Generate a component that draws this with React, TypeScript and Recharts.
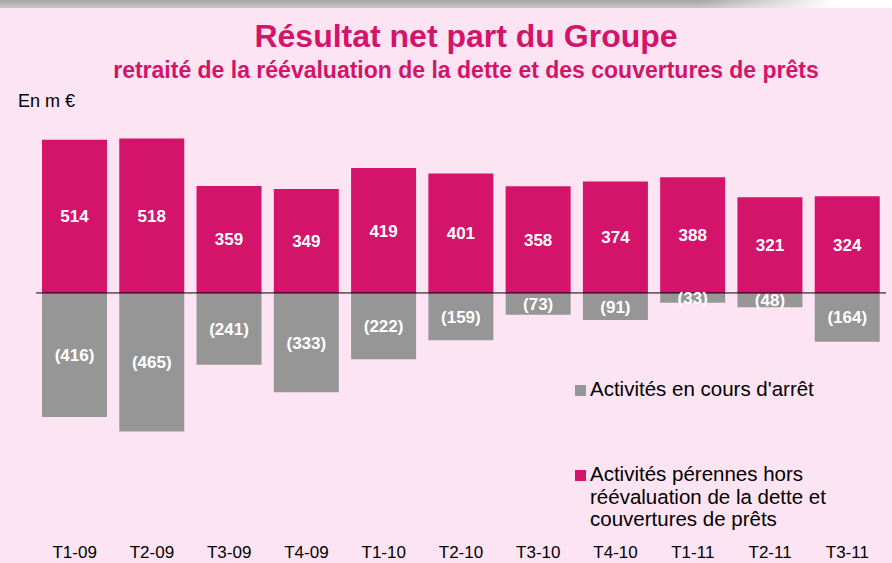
import { BarChart, Bar, XAxis, YAxis, LabelList, ReferenceLine } from 'recharts';

const quarters = ['T1-09', 'T2-09', 'T3-09', 'T4-09', 'T1-10', 'T2-10', 'T3-10', 'T4-10', 'T1-11', 'T2-11', 'T3-11'];
const perennes = [514, 518, 359, 349, 419, 401, 358, 374, 388, 321, 324];
const arret = [-416, -465, -241, -333, -222, -159, -73, -91, -33, -48, -164];

const data = quarters.map((q, i) => ({ name: q, perennes: perennes[i], arret: arret[i] }));

const PINK = '#d4136a';
const GREY = '#969696';
const FONT = '"Liberation Sans", Arial, sans-serif';

const QuarterTick = ({ x, y, payload }: any) => (
  <text x={x} y={y} dy={108} textAnchor="middle" fill="#000" fontSize={17} fontFamily={FONT}>
    {payload.value}
  </text>
);

export default function App() {
  return (
    <div style={{ position: 'absolute', left: 0, top: 0, width: 892, height: 563, background: '#fde4f2', fontFamily: FONT, overflow: 'hidden' }}>
      <div style={{ position: 'absolute', left: 0, top: 0, width: 892, height: 8, background: 'linear-gradient(to bottom, #a4a4a4, #c6c6c6)' }} />
      <div style={{ position: 'absolute', left: 700, top: 0, width: 192, height: 8, background: 'linear-gradient(to right, rgba(255,255,255,0), #fff 70%)' }} />

      <div style={{ position: 'absolute', left: 0, top: 18, width: 932, textAlign: 'center', color: PINK, fontWeight: 'bold', fontSize: 32 }}>
        Résultat net part du Groupe
      </div>
      <div style={{ position: 'absolute', left: 0, top: 57, width: 932, textAlign: 'center', color: PINK, fontWeight: 'bold', fontSize: 23 }}>
        retraité de la réévaluation de la dette et des couvertures de prêts
      </div>
      <div style={{ position: 'absolute', left: 18, top: 91, color: '#000', fontSize: 18 }}>En m €</div>

      <div style={{ position: 'absolute', left: 0, top: 0 }}>
        <BarChart
          width={892}
          height={563}
          data={data}
          stackOffset="sign"
          barCategoryGap={6}
          margin={{ top: 129, right: 6, bottom: 0, left: 36 }}
        >
          <XAxis dataKey="name" height={121} axisLine={false} tickLine={false} tick={<QuarterTick />} interval={0} />
          <YAxis hide domain={[-500, 550]} />
          <Bar dataKey="perennes" stackId="a" fill={PINK} isAnimationActive={false}>
            <LabelList
              dataKey="perennes"
              position="center"
              fill="#fff"
              fontSize={17}
              fontWeight="bold"
              fontFamily={FONT}
            />
          </Bar>
          <Bar dataKey="arret" stackId="a" fill={GREY} isAnimationActive={false}>
            <LabelList
              dataKey="arret"
              position="center"
              fill="#fff"
              fontSize={17}
              fontWeight="bold"
              fontFamily={FONT}
              formatter={(v: any) => `(${Math.abs(Number(v))})`}
            />
          </Bar>
          <ReferenceLine y={0} stroke="#000" strokeWidth={1} ifOverflow="extendDomain" />
        </BarChart>
      </div>

      <div style={{ position: 'absolute', left: 575, top: 378, fontSize: 20.5, color: '#000', lineHeight: '22.5px', display: 'flex' }}>
        <span style={{ display: 'inline-block', width: 11, height: 11, background: GREY, marginRight: 4, marginTop: 7, flexShrink: 0 }} />
        <div>Activités en cours d'arrêt</div>
      </div>
      <div style={{ position: 'absolute', left: 575, top: 463, fontSize: 20.5, color: '#000', lineHeight: '22.5px', display: 'flex' }}>
        <span style={{ display: 'inline-block', width: 11, height: 11, background: PINK, marginRight: 4, marginTop: 7, flexShrink: 0 }} />
        <div>
          Activités pérennes hors
          <br />
          réévaluation de la dette et
          <br />
          couvertures de prêts
        </div>
      </div>
    </div>
  );
}
